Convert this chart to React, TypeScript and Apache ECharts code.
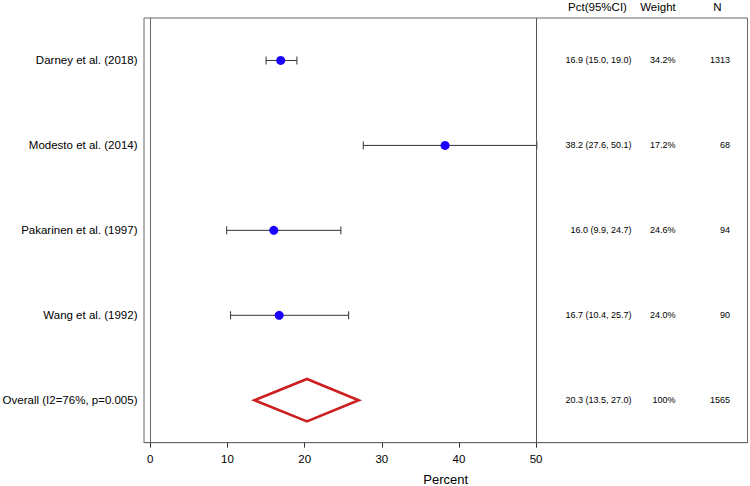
import React, { useEffect, useRef } from "react";
import * as echarts from "echarts";

const studies = [
  "Darney et al. (2018)",
  "Modesto et al. (2014)",
  "Pakarinen et al. (1997)",
  "Wang et al. (1992)",
  "Overall (I2=76%, p=0.005)",
];
const estimates = [16.9, 38.2, 16.0, 16.7, 20.3];
const lowerCI = [15.0, 27.6, 9.9, 10.4, 13.5];
const upperCI = [19.0, 50.1, 24.7, 25.7, 27.0];
const weights = ["34.2%", "17.2%", "24.6%", "24.0%", "100%"];
const sampleN = ["1313", "68", "94", "90", "1565"];
const xTicks = [0, 10, 20, 30, 40, 50];
const headers = ["Pct(95%CI)", "Weight", "N"];
const refLine = 50;

const FONT = "'Liberation Sans', Arial, Helvetica, sans-serif";

export default function App() {
  const ref = useRef<HTMLDivElement>(null);
  useEffect(() => {
    if (!ref.current) return;
    const chart = echarts.init(ref.current, null, { renderer: "svg" });
    const nStudies = studies.length - 1;
    const studyIdx = estimates.slice(0, nStudies).map((_, i) => i);
    const fmt = (v: number) => v.toFixed(1);
    const ciText = estimates.map(
      (e, i) => `${fmt(e)} (${fmt(lowerCI[i])}, ${fmt(upperCI[i])})`
    );

    chart.setOption({
      animation: false,
      textStyle: { fontFamily: FONT },
      grid: {
        left: 144,
        top: 18,
        right: 2.5,
        bottom: 43.3,
        show: true,
        borderColor: "#666",
        borderWidth: 1,
        containLabel: false,
        outerBoundsMode: "none",
      },
      xAxis: {
        type: "value",
        min: -0.82,
        max: 77.4,
        name: "Percent",
        nameLocation: "middle",
        nameGap: 30,
        nameTextStyle: { fontSize: 13, color: "#000", fontFamily: FONT },
        axisLine: { show: true, lineStyle: { color: "#666", width: 1 } },
        axisTick: {
          show: true,
          length: 5,
          customValues: xTicks,
          lineStyle: { color: "#333" },
        },
        axisLabel: {
          customValues: xTicks,
          fontSize: 11.5,
          color: "#000",
          margin: 10,
          fontFamily: FONT,
        },
        splitLine: { show: false },
      },
      yAxis: {
        type: "category",
        data: studies,
        inverse: true,
        axisLine: { show: true, lineStyle: { color: "#666", width: 1 } },
        axisTick: { show: false },
        axisLabel: {
          fontSize: 11.5,
          color: "#000",
          margin: 6.5,
          fontFamily: FONT,
          hideOverlap: false,
        },
        splitLine: { show: false },
      },
      graphic: headers.map((h, i) => ({
        type: "text",
        x: [597.5, 658, 717.5][i],
        y: 7,
        style: {
          text: h,
          fontSize: 11.5,
          fontFamily: FONT,
          fill: "#000",
          align: "center",
          verticalAlign: "middle",
        },
      })),
      series: [
        {
          type: "custom",
          name: "ci",
          data: studyIdx.map((i) => [lowerCI[i], upperCI[i], i]),
          renderItem: (params: any, api: any) => {
            const lo = api.coord([api.value(0), api.value(2)]);
            const hi = api.coord([api.value(1), api.value(2)]);
            const cap = 4;
            const style = { stroke: "#333", lineWidth: 1 };
            return {
              type: "group",
              children: [
                { type: "line", shape: { x1: lo[0], y1: lo[1], x2: hi[0], y2: hi[1] }, style },
                { type: "line", shape: { x1: lo[0], y1: lo[1] - cap, x2: lo[0], y2: lo[1] + cap }, style },
                { type: "line", shape: { x1: hi[0], y1: hi[1] - cap, x2: hi[0], y2: hi[1] + cap }, style },
              ],
            };
          },
          z: 2,
        },
        {
          type: "scatter",
          name: "estimate",
          data: studyIdx.map((i) => [estimates[i], i]),
          symbol: "circle",
          symbolSize: 9,
          itemStyle: { color: "#1a00ff", opacity: 1 },
          z: 3,
          markLine: {
            silent: true,
            symbol: "none",
            label: { show: false },
            lineStyle: { color: "#555", type: "solid", width: 1 },
            data: [{ xAxis: refLine }],
          },
        },
        {
          type: "custom",
          name: "overall",
          data: [[lowerCI[nStudies], estimates[nStudies], upperCI[nStudies], nStudies]],
          renderItem: (params: any, api: any) => {
            const y = api.value(3);
            const l = api.coord([api.value(0), y]);
            const c = api.coord([api.value(1), y]);
            const r = api.coord([api.value(2), y]);
            const h = api.size([0, 1])[1] * 0.25;
            return {
              type: "polygon",
              shape: {
                points: [
                  [l[0], l[1]],
                  [c[0], c[1] - h],
                  [r[0], r[1]],
                  [c[0], c[1] + h],
                ],
              },
              style: { fill: "none", stroke: "#cc1f1f", lineWidth: 2.6, lineJoin: "miter" },
            };
          },
          z: 3,
        },
        {
          type: "custom",
          name: "table",
          data: studies.map((_, i) => [i]),
          renderItem: (params: any, api: any) => {
            const i = api.value(0);
            const p = api.coord([0, i]);
            const base = {
              fontSize: 9,
              fontFamily: FONT,
              fill: "#000",
              verticalAlign: "middle",
              align: "right",
            };
            return {
              type: "group",
              children: [
                { type: "text", x: 631.5, y: p[1], style: { ...base, text: ciText[i] } },
                { type: "text", x: 675.5, y: p[1], style: { ...base, text: weights[i] } },
                { type: "text", x: 730, y: p[1], style: { ...base, text: sampleN[i] } },
              ],
            };
          },
        },
      ],
    });
    return () => chart.dispose();
  }, []);
  return (
    <div
      ref={ref}
      style={{ position: "absolute", left: 0, top: 0, width: 750, height: 486, background: "#fff" }}
    />
  );
}
